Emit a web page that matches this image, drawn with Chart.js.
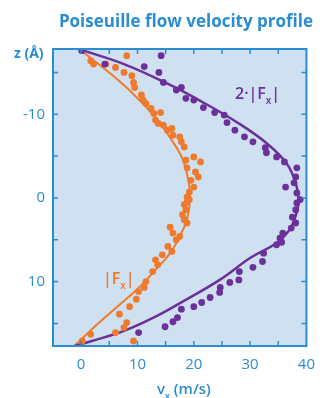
<!DOCTYPE html>
<html lang="en">
<head>
  <meta charset="UTF-8">
  <title>Poiseuille flow velocity profile</title>
  <script src="https://cdn.jsdelivr.net/npm/chart.js"></script>
  <style>
    body {
      margin: 0;
      padding: 0;
      background: #fff;
    }

    #wrap {
      width: 325px;
      height: 398px;
      position: relative;
    }
  </style>
</head>
<body>

  <div id="wrap">
    <canvas id="profileChart" width="325" height="398"></canvas>
  </div>

  <script>
    // simulated points, 2*|Fx| (purple): v (m/s) and z (Å)
    const purpleV = [0.1, 4.2, 11.2, 14.2, 13.8, 14.6, 16.9, 17.8, 18.6, 20, 21.7, 23.7, 25.4, 25.9, 27.3, 29, 30.5, 32.7, 32.9, 34.7, 36.1, 38.3, 38.1, 36.3, 37.8, 38.3, 38.9, 38.1, 37.5, 38.3, 38.1, 37.3, 35.8, 35.3, 34.7, 35.6, 32.4, 32.2, 30.5, 28.1, 28, 26.4, 24.7, 24.6, 22.9, 21.4, 20, 17.8, 17.1, 16.3, 14.9, 10.2];
    const purpleZ = [-17.6, -16, -15.7, -17, -15, -13.8, -12.9, -13.2, -11.9, -11.7, -10.8, -10.2, -9.9, -9, -8.1, -7.3, -6.7, -6, -5.4, -4.9, -4.3, -3.6, -2.5, -1.3, -1.8, -0.6, 0.2, 1.4, 2.3, 0.6, 3, 3.6, 4.2, 4.8, 5.6, 5.3, 6.6, 7.6, 8.3, 8.8, 9.8, 10.1, 10.7, 11.3, 11.9, 12.5, 13, 13.3, 14.3, 14.8, 15.4, 16.1];

    // simulated points, |Fx| (orange)
    const orangeV = [1.7, 2.2, 4.4, 6.1, 8.1, 7.6, 9, 9.3, 9.5, 10.7, 11, 11.5, 12.4, 12.9, 14.1, 13.2, 13.7, 14.6, 15.3, 16.1, 16.3, 17.5, 17.8, 18.3, 20, 21.2, 18.6, 18.8, 20.3, 20.8, 19.5, 20, 19.2, 18.8, 19.2, 18.3, 18.6, 18, 18.8, 18.3, 18.8, 15.8, 16.3, 17.5, 16.9, 15.4, 16.1, 14.4, 13.2, 13.6, 12.7, 11.5, 11.2, 10.2, 9.8, 8.6, 6.8, 8.1, 7.6, 6.1, 1.7, 0.2, 9.3];
    const orangeZ = [-16.4, -16, -16, -15.6, -17, -15, -14.6, -13.8, -13.2, -12.3, -11.7, -11.3, -10.7, -10.1, -10.2, -9.3, -8.9, -8.7, -8.1, -8.3, -7.5, -7.3, -6.7, -6.1, -4.9, -4.3, -4.5, -3.6, -3.1, -2.5, -2.1, -1.3, -0.7, -0.1, 0.2, 0.8, 1.4, 2, 0.5, 2.6, 3, 3.5, 4.2, 4.6, 5, 5.8, 6.4, 6.8, 7.4, 8, 8.8, 10, 10.7, 11.2, 12.1, 13, 13.9, 14.9, 15.5, 16.1, 16.3, 17.1, 17.1];

    // fitted parabolas, sampled from the drawn curves
    const purpleFitV = [0, 7.6, 14.9, 21.7, 28, 33, 36.4, 38.1, 38.6, 37.9, 37, 34.7, 30.2, 24.6, 18.8, 13.2, 7.6, 1.9, -1.2];
    const purpleFitZ = [-17.7, -16, -13.8, -11.4, -8.9, -6.5, -4.2, -1.8, 0.5, 2.5, 3.8, 5.4, 7.1, 9.8, 12.1, 14.2, 15.9, 17.1, 17.7];
    const orangeFitV = [0.2, 5.3, 9.3, 13.2, 16.1, 18.1, 19.1, 19.3, 18.9, 17.8, 15.8, 13.2, 9.8, 5.9, 1.9, -1.2];
    const orangeFitZ = [-17.5, -14.8, -12.4, -9.6, -6.9, -4.5, -1.8, 0.3, 2.3, 4.2, 6.6, 8.6, 11, 13.3, 15.7, 17.7];

    const xTicks = [0, 10, 20, 30, 40];
    const yTicks = [-10, 0, 10];

    const BLUE = '#2a8dd2';
    const PURPLE = '#6b3099';
    const ORANGE = '#f07a2c';
    const FONT = "'Open Sans', sans-serif";

    function toPoints(vs, zs) {
      return vs.map((v, i) => ({ x: v, y: zs[i] }));
    }

    // writes "pre" + subscript x + "post" starting at x, returns nothing
    function subLabel(ctx, pre, post, x, y, size) {
      ctx.font = "600 " + size + "px " + FONT;
      ctx.fillText(pre, x, y);
      const w = ctx.measureText(pre).width;
      ctx.font = "600 " + Math.round(size * 0.6) + "px " + FONT;
      ctx.fillText('x', x + w, y + size * 0.33);
      const sw = ctx.measureText('x').width;
      ctx.font = "600 " + size + "px " + FONT;
      ctx.fillText(post, x + w + sw, y);
    }

    // plot background, frame, inward ticks and the free text
    const decor = {
      id: 'decor',
      beforeDatasetsDraw(chart) {
        const { ctx, chartArea: a } = chart;
        ctx.save();
        ctx.fillStyle = '#cfe1f1';
        ctx.fillRect(a.left, a.top, a.right - a.left, a.bottom - a.top);
        ctx.restore();
      },
      afterDraw(chart) {
        const { ctx, chartArea: a, scales } = chart;
        const xs = scales.x, ys = scales.y;
        ctx.save();
        ctx.strokeStyle = BLUE;
        ctx.lineWidth = 2;
        ctx.strokeRect(a.left, a.top, a.right - a.left, a.bottom - a.top);

        ctx.lineWidth = 1.5;
        ctx.beginPath();
        for (let v = 0; v < 40; v += 5) {
          const px = xs.getPixelForValue(v);
          ctx.moveTo(px, a.bottom); ctx.lineTo(px, a.bottom - 5);
          ctx.moveTo(px, a.top); ctx.lineTo(px, a.top + 5);
        }
        for (let z = -15; z <= 15; z += 5) {
          const py = ys.getPixelForValue(z);
          ctx.moveTo(a.left, py); ctx.lineTo(a.left + 5, py);
          ctx.moveTo(a.right, py); ctx.lineTo(a.right - 5, py);
        }
        ctx.stroke();

        // title
        ctx.fillStyle = BLUE;
        ctx.textAlign = 'center';
        ctx.textBaseline = 'alphabetic';
        ctx.font = "bold 17px " + FONT;
        ctx.fillText('Poiseuille flow velocity profile', 186, 27);

        // axis names
        ctx.font = "bold 14px " + FONT;
        ctx.textAlign = 'left';
        ctx.fillText('z (Å)', 14, 58);
        subLabel(ctx, 'v', ' (m/s)', 157, 394, 15);

        // series labels
        ctx.fillStyle = PURPLE;
        subLabel(ctx, '2·|F', '|', 235, 99, 16);
        ctx.fillStyle = ORANGE;
        subLabel(ctx, '|F', '|', 103, 284, 16);
        ctx.restore();
      }
    };

    new Chart(document.getElementById('profileChart'), {
      type: 'scatter',
      data: {
        datasets: [
          {
            label: '2·|Fx|',
            data: toPoints(purpleV, purpleZ),
            backgroundColor: PURPLE,
            borderWidth: 0,
            pointRadius: 3.4,
            order: 0
          },
          {
            label: '|Fx|',
            data: toPoints(orangeV, orangeZ),
            backgroundColor: ORANGE,
            borderWidth: 0,
            pointRadius: 3.4,
            order: 0
          },
          {
            label: '2·|Fx| fit',
            data: toPoints(purpleFitV, purpleFitZ),
            showLine: true,
            borderColor: PURPLE,
            borderWidth: 2.5,
            pointRadius: 0,
            tension: 0.4,
            order: 1
          },
          {
            label: '|Fx| fit',
            data: toPoints(orangeFitV, orangeFitZ),
            showLine: true,
            borderColor: ORANGE,
            borderWidth: 2,
            pointRadius: 0,
            tension: 0.4,
            order: 1
          }
        ]
      },
      options: {
        responsive: false,
        animation: false,
        layout: { padding: { top: 49, right: 7, left: 0, bottom: 0 } },
        plugins: {
          legend: { display: false },
          tooltip: { enabled: false }
        },
        scales: {
          x: {
            type: 'linear',
            min: -5,
            max: 40,
            afterFit(scale) { scale.height = 52; },
            afterBuildTicks(scale) { scale.ticks = xTicks.map(v => ({ value: v })); },
            grid: { display: false, drawTicks: false },
            border: { display: false },
            ticks: { color: BLUE, padding: 10, font: { family: FONT, size: 15 } }
          },
          y: {
            type: 'linear',
            reverse: true,
            min: -17.8,
            max: 17.7,
            afterFit(scale) { scale.width = 53; },
            afterBuildTicks(scale) { scale.ticks = yTicks.map(v => ({ value: v })); },
            grid: { display: false, drawTicks: false },
            border: { display: false },
            ticks: { color: BLUE, padding: 8, font: { family: FONT, size: 15 } }
          }
        }
      },
      plugins: [decor]
    });
  </script>

</body>
</html>
